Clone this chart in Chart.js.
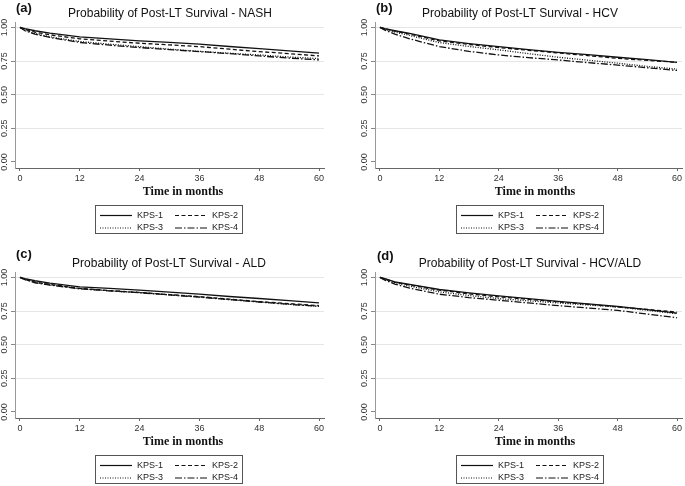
<!DOCTYPE html>
<html>
<head>
<meta charset="utf-8">
<script src="https://cdn.jsdelivr.net/npm/chart.js@4.4.0/dist/chart.umd.min.js"></script>
<style>
  body { margin: 0; background: #fff; width: 685px; height: 486px; position: relative; overflow: hidden; }
  .panel { position: absolute; height: 243px; }
</style>
</head>
<body>
<div class="panel" style="left:0;top:0;width:335px"><canvas id="chartA"></canvas></div>
<div class="panel" style="left:360px;top:0;width:325px"><canvas id="chartB"></canvas></div>
<div class="panel" style="left:0;top:250px;width:335px"><canvas id="chartC"></canvas></div>
<div class="panel" style="left:360px;top:250px;width:325px"><canvas id="chartD"></canvas></div>
<script>
// time points (months) and axis ticks
const months = [0, 1, 3, 6, 12, 18, 24, 30, 36, 42, 48, 54, 60];
const xTicks = [0, 12, 24, 36, 48, 60];
const yTicks = [0, 0.25, 0.5, 0.75, 1];
const kpsLabels = ['KPS-1', 'KPS-2', 'KPS-3', 'KPS-4'];

// (a) NASH
const nashKps1 = [1, 0.99, 0.975, 0.957, 0.93, 0.915, 0.9, 0.888, 0.875, 0.858, 0.842, 0.825, 0.808];
const nashKps2 = [1, 0.985, 0.965, 0.945, 0.915, 0.898, 0.882, 0.87, 0.857, 0.838, 0.82, 0.805, 0.788];
const nashKps3 = [1, 0.98, 0.955, 0.93, 0.895, 0.875, 0.857, 0.838, 0.822, 0.808, 0.795, 0.78, 0.768];
const nashKps4 = [1, 0.975, 0.95, 0.925, 0.888, 0.868, 0.85, 0.835, 0.82, 0.805, 0.788, 0.772, 0.758];

// (b) HCV
const hcvKps1 = [1, 0.99, 0.975, 0.955, 0.907, 0.88, 0.857, 0.835, 0.815, 0.797, 0.778, 0.76, 0.74];
const hcvKps2 = [1, 0.99, 0.972, 0.95, 0.9, 0.873, 0.85, 0.83, 0.81, 0.79, 0.77, 0.755, 0.74];
const hcvKps3 = [1, 0.985, 0.965, 0.94, 0.887, 0.858, 0.833, 0.805, 0.778, 0.756, 0.734, 0.71, 0.69];
const hcvKps4 = [1, 0.98, 0.95, 0.915, 0.857, 0.822, 0.795, 0.775, 0.758, 0.738, 0.72, 0.7, 0.68];

// (c) ALD
const aldKps1 = [1, 0.99, 0.975, 0.958, 0.93, 0.918, 0.905, 0.89, 0.875, 0.858, 0.843, 0.827, 0.81];
const aldKps2 = [1, 0.985, 0.965, 0.948, 0.918, 0.902, 0.888, 0.872, 0.857, 0.838, 0.82, 0.805, 0.79];
const aldKps3 = [1, 0.985, 0.963, 0.945, 0.917, 0.9, 0.887, 0.87, 0.855, 0.835, 0.818, 0.8, 0.785];
const aldKps4 = [1, 0.983, 0.96, 0.943, 0.915, 0.9, 0.886, 0.87, 0.853, 0.835, 0.817, 0.8, 0.785];

// (d) HCV/ALD
const hcvAldKps1 = [1, 0.99, 0.967, 0.948, 0.91, 0.885, 0.862, 0.842, 0.822, 0.803, 0.785, 0.76, 0.735];
const hcvAldKps2 = [1, 0.988, 0.965, 0.943, 0.905, 0.878, 0.855, 0.837, 0.818, 0.8, 0.78, 0.762, 0.742];
const hcvAldKps3 = [1, 0.985, 0.96, 0.935, 0.892, 0.865, 0.842, 0.826, 0.81, 0.795, 0.78, 0.755, 0.73];
const hcvAldKps4 = [1, 0.98, 0.95, 0.92, 0.875, 0.85, 0.83, 0.81, 0.79, 0.772, 0.755, 0.727, 0.7];

const dashes = [[], [4, 2.5], [1, 1.5], [7, 2, 1.5, 2]];
const sans = 'Liberation Sans, Arial, sans-serif';

// letter, title and x axis title drawn on the canvas
const panelText = {
  id: 'panelText',
  afterDraw(chart, args, o) {
    const ctx = chart.ctx;
    ctx.save();
    ctx.fillStyle = '#111';
    ctx.textBaseline = 'middle';
    ctx.textAlign = 'left';
    ctx.font = 'bold 13px ' + sans;
    ctx.fillText(o.letter, o.letterX, o.letterY);
    ctx.textAlign = 'center';
    ctx.font = '12px ' + sans;
    ctx.fillText(o.title, o.titleX, 14);
    ctx.font = 'bold 12px Liberation Serif, Times New Roman, serif';
    ctx.fillText('Time in months', o.axisTitleX, 192);
    ctx.restore();
  }
};

// boxed two-column legend like the original
const boxLegend = {
  id: 'boxLegend',
  afterDraw(chart, args, o) {
    const ctx = chart.ctx;
    const left = o.left, top = 205;
    ctx.save();
    ctx.strokeStyle = '#555';
    ctx.lineWidth = 1;
    ctx.strokeRect(left + 0.5, top + 0.5, 147, 28);
    ctx.font = '9px ' + sans;
    ctx.textBaseline = 'middle';
    ctx.fillStyle = '#222';
    chart.data.datasets.forEach((ds, i) => {
      const col = i % 2, row = Math.floor(i / 2);
      const x0 = left + 5 + col * 75;
      const y = top + 10.5 + row * 12.5;
      ctx.strokeStyle = '#111';
      ctx.lineWidth = 1.2;
      ctx.setLineDash(ds.borderDash);
      ctx.beginPath();
      ctx.moveTo(x0, y);
      ctx.lineTo(x0 + 32, y);
      ctx.stroke();
      ctx.setLineDash([]);
      ctx.fillText(ds.label, x0 + 37, y);
    });
    ctx.restore();
  }
};

function makeChart(id, series, text, padRight, legendLeft) {
  const ctx = document.getElementById(id).getContext('2d');
  return new Chart(ctx, {
    type: 'line',
    data: {
      datasets: series.map((vals, i) => ({
        label: kpsLabels[i],
        data: months.map((m, j) => ({ x: m, y: vals[j] })),
        borderColor: '#111',
        borderWidth: 1.3,
        borderDash: dashes[i],
        pointRadius: 0,
        fill: false,
        tension: 0
      }))
    },
    options: {
      responsive: true,
      maintainAspectRatio: false,
      animation: false,
      layout: { padding: { top: 22, right: padRight, bottom: 40, left: 0 } },
      scales: {
        x: {
          type: 'linear',
          min: -1,
          max: 61,
          afterBuildTicks: s => { s.ticks = xTicks.map(v => ({ value: v })); },
          afterFit: s => { s.height = 35; },
          ticks: { maxRotation: 0, padding: 2, color: '#333', font: { family: sans, size: 9 } },
          grid: { drawOnChartArea: false, tickLength: 3, tickColor: '#666' },
          border: { color: '#666', width: 1 }
        },
        y: {
          min: -0.045,
          max: 1.04,
          afterBuildTicks: s => { s.ticks = yTicks.map(v => ({ value: v })); },
          afterFit: s => { s.width = 15; },
          ticks: {
            minRotation: 90, maxRotation: 90, crossAlign: 'center', padding: -2,
            color: '#333', font: { family: sans, size: 9 },
            callback: v => v.toFixed(2)
          },
          grid: {
            color: c => (c.tick && c.tick.value === 0) ? 'rgba(0,0,0,0)' : '#e6e6e6',
            tickLength: 4,
            tickColor: '#888'
          },
          border: { color: '#999', width: 1 }
        }
      },
      plugins: {
        legend: { display: false },
        tooltip: { enabled: false },
        panelText: text,
        boxLegend: { left: legendLeft }
      }
    },
    plugins: [panelText, boxLegend]
  });
}

makeChart('chartA', [nashKps1, nashKps2, nashKps3, nashKps4],
  { letter: '(a)', letterX: 16, letterY: 8, title: 'Probability of Post-LT Survival - NASH', titleX: 170, axisTitleX: 183 }, 11, 95);
makeChart('chartB', [hcvKps1, hcvKps2, hcvKps3, hcvKps4],
  { letter: '(b)', letterX: 16, letterY: 8, title: 'Probability of Post-LT Survival - HCV', titleX: 160, axisTitleX: 175 }, 3, 96);
makeChart('chartC', [aldKps1, aldKps2, aldKps3, aldKps4],
  { letter: '(c)', letterX: 16, letterY: 4, title: 'Probability of Post-LT Survival - ALD', titleX: 169, axisTitleX: 183 }, 11, 95);
makeChart('chartD', [hcvAldKps1, hcvAldKps2, hcvAldKps3, hcvAldKps4],
  { letter: '(d)', letterX: 17, letterY: 6.5, title: 'Probability of Post-LT Survival - HCV/ALD', titleX: 170, axisTitleX: 175 }, 3, 96);
</script>
</body>
</html>
